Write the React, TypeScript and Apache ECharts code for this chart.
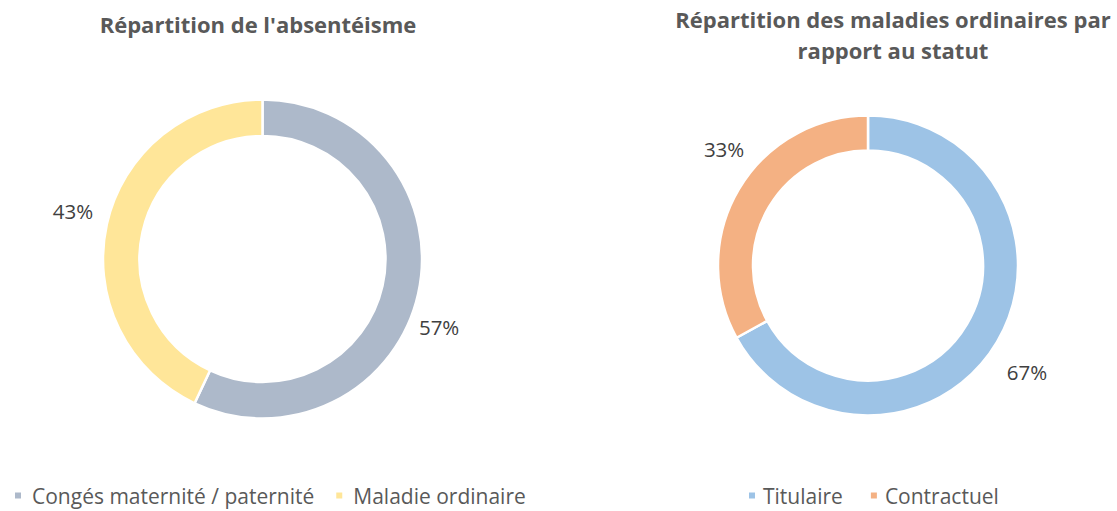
import React, { useEffect, useRef } from "react";
import * as echarts from "echarts";

// ---- data ----
const absTitle = "Répartition de l'absentéisme";
const absCategories = ["Congés maternité / paternité", "Maladie ordinaire"];
const absValues = [57, 43];

const statutTitle = "Répartition des maladies ordinaires par\nrapport au statut";
const statutCategories = ["Titulaire", "Contractuel"];
const statutValues = [67, 33];

// ---- styles ----
const absColors = ["#ADB9CA", "#FFE699"];
const statutColors = ["#9DC3E6", "#F4B183"];
const absLabelShift = [
  [-14, 31],
  [1, -11],
];
const statutLabelShift = [
  [-4, 25],
  [19, -35],
];

const FONT = "'Open Sans', 'Noto Sans', sans-serif";

function makePie(
  names: string[],
  values: number[],
  colors: string[],
  shifts: number[][],
  center: [number, number],
  radius: [number, number]
) {
  return {
    type: "pie",
    center,
    radius,
    startAngle: 90,
    clockwise: true,
    avoidLabelOverlap: false,
    data: names.map((n, i) => ({
      name: n,
      value: values[i],
      itemStyle: { color: colors[i] },
    })),
    itemStyle: { borderColor: "#ffffff", borderWidth: 2.5 },
    label: {
      show: true,
      position: "outside",
      formatter: (p: any) => `${Math.round(p.percent)}%`,
      color: "#404040",
      fontFamily: FONT,
      fontSize: 20.5,
      distanceToLabelLine: 5,
    },
    labelLine: { show: false, length: 10, length2: 0 },
    labelLayout: (p: any) => ({
      dx: shifts[p.dataIndex][0],
      dy: shifts[p.dataIndex][1],
    }),
    emphasis: { disabled: true },
  };
}

export default function App() {
  const ref = useRef<HTMLDivElement>(null);

  useEffect(() => {
    document.body.style.margin = "0";
    document.body.style.overflow = "hidden";
    const chart = echarts.init(ref.current!, null, { renderer: "svg" });
    const titleStyle = {
      color: "#595959",
      fontWeight: "bold" as const,
      fontFamily: FONT,
      fontSize: 22,
      lineHeight: 31,
    };
    const legendText = {
      color: "#595959",
      fontFamily: FONT,
      fontSize: 21,
      padding: [0, 0, 0, 5],
    };
    chart.setOption({
      animation: false,
      backgroundColor: "#ffffff",
      title: [
        {
          text: absTitle,
          left: 258,
          top: 8,
          textAlign: "center",
          padding: 0,
          textStyle: titleStyle,
        },
        {
          text: statutTitle,
          left: 893,
          top: 3,
          textAlign: "center",
          padding: 0,
          textStyle: titleStyle,
        },
      ],
      legend: [
        {
          data: absCategories,
          left: 13,
          top: 485,
          padding: 0,
          icon: "rect",
          itemWidth: 8,
          itemHeight: 8,
          itemGap: 20,
          textStyle: legendText,
          selectedMode: false,
        },
        {
          data: statutCategories,
          left: 747,
          top: 485,
          padding: 0,
          icon: "rect",
          itemWidth: 8,
          itemHeight: 8,
          itemGap: 26,
          textStyle: { ...legendText, padding: [0, 0, 0, 2] },
          selectedMode: false,
        },
      ],
      series: [
        makePie(absCategories, absValues, absColors, absLabelShift, [262.5, 259], [123, 159.5]),
        makePie(statutCategories, statutValues, statutColors, statutLabelShift, [868, 265.5], [115, 150]),
      ],
    });
    return () => chart.dispose();
  }, []);

  return <div ref={ref} style={{ width: 1117, height: 511 }} />;
}
